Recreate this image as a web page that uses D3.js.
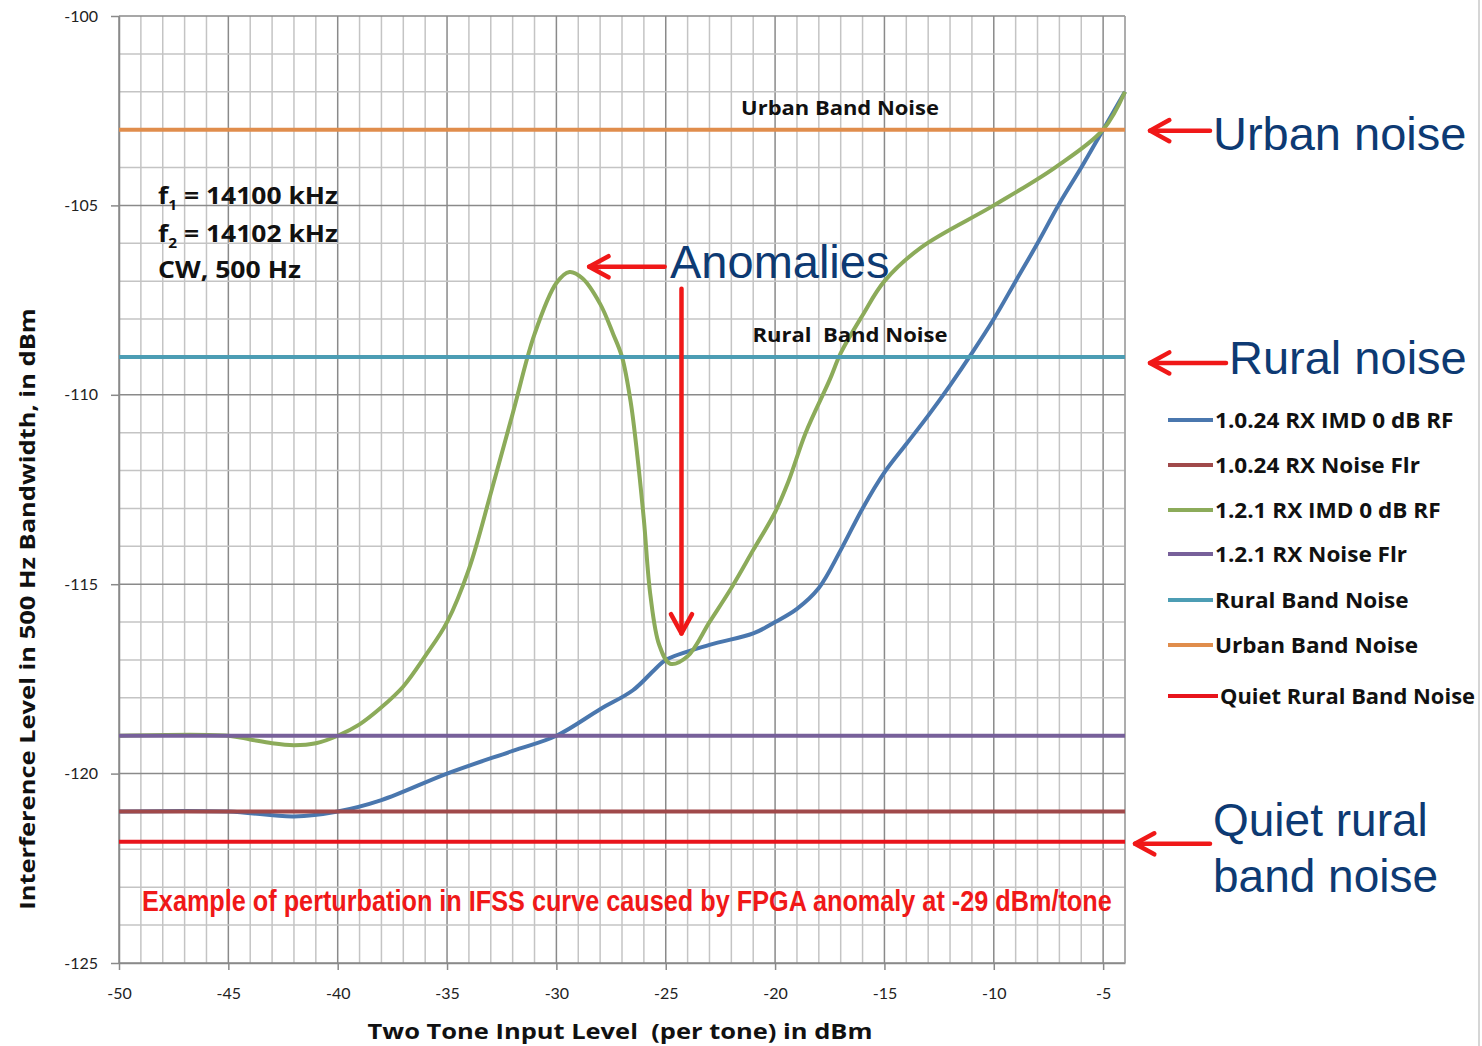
<!DOCTYPE html>
<html><head><meta charset="utf-8">
<script src="https://cdn.jsdelivr.net/npm/d3@7"></script>
<style>
html,body{margin:0;padding:0;background:#fff;}
svg{display:block;}
</style></head>
<body>
<svg id="chart" width="1482" height="1046"></svg>
<script>
// ---- data ----
const xTicks = [-50,-45,-40,-35,-30,-25,-20,-15,-10,-5];
const yTicks = [-100,-105,-110,-115,-120,-125];

const blueX = [-50,-45,-42,-40,-38,-35,-32,-30,-28,-26.5,-25.5,-25,-23,-21,-20,-19,-18,-17,-16,-15,-14,-13,-12,-11,-10,-9,-8,-7,-6,-5,-4];
const blueY = [-121.0,-121.0,-121.13,-121.0,-120.7,-120.0,-119.4,-119.0,-118.3,-117.8,-117.25,-117.0,-116.6,-116.3,-116.0,-115.65,-115.1,-114.1,-113.0,-112.05,-111.3,-110.55,-109.75,-108.9,-108.0,-107.0,-106.0,-104.95,-104.0,-103.0,-102.0];

const greenX = [-50,-45,-44,-43,-42,-41,-40,-39,-38,-37,-36,-35,-34,-33,-32,-31,-30,-29.4,-28.8,-28,-27.4,-27,-26.6,-26.3,-26,-25.7,-25.3,-24.8,-24,-23,-22,-21,-20,-19.4,-18.6,-17.5,-17,-16,-15,-13.3,-10,-7.2,-5,-4];
const greenY = [-119.0,-119.0,-119.1,-119.2,-119.25,-119.2,-119.0,-118.7,-118.25,-117.7,-116.9,-116.0,-114.6,-112.6,-110.5,-108.4,-107.05,-106.76,-106.93,-107.6,-108.4,-109.0,-110.2,-111.6,-113.3,-115.3,-116.6,-117.1,-116.9,-116.0,-115.1,-114.1,-113.1,-112.3,-111.0,-109.6,-108.9,-107.9,-107.0,-106.1,-105.0,-104.0,-103.0,-102.0];

const levelNames = ["1.0.24 RX Noise Flr","1.2.1 RX Noise Flr","Rural Band Noise","Urban Band Noise","Quiet Rural Band Noise"];
const levelValues = [-121.0,-119.0,-109.0,-103.0,-121.8];

const legendLabels = ["1.0.24 RX IMD 0 dB RF","1.0.24 RX Noise Flr","1.2.1 RX IMD 0 dB RF","1.2.1 RX Noise Flr","Rural Band Noise","Urban Band Noise","Quiet Rural Band Noise"];
const seriesColors = ["#4a77ae","#a0494a","#8cab5a","#77609a","#4c9db4","#e08d4c","#e8141c"];

// ---- layout ----
const svg = d3.select("#chart");
const x = d3.scaleLinear().domain([-50,-4]).range([119,1125]);
const y = d3.scaleLinear().domain([-125,-100]).range([963,16]);
const navy = "#0d3a73";
const red = "#f01818";
const tickFont = "Lato, 'Open Sans', sans-serif";
const boldFont = "'Open Sans', Lato, sans-serif";

// scale a text horizontally so that its real box has the wanted width
function fit(sel, tx, ty, target, anchor){
  const w = sel.node().getComputedTextLength();
  const k = target / w;
  sel.attr("x",0).attr("y",0).attr("text-anchor",anchor||"start")
     .attr("transform",`translate(${tx},${ty}) scale(${k},1)`);
  return sel;
}

// grid
const g = svg.append("g");
const vVals = d3.range(-50,-3,1);
const hVals = d3.range(-125,-99,1);
g.selectAll("line.v").data(vVals).join("line")
  .attr("x1",d=>x(d)).attr("x2",d=>x(d)).attr("y1",y(-100)).attr("y2",y(-125))
  .attr("stroke",d=>d%5===0?"#8a8a8a":"#c4c4c4").attr("stroke-width",1.5);
g.selectAll("line.h").data(hVals).join("line")
  .attr("x1",x(-50)).attr("x2",x(-4)).attr("y1",d=>y(d)).attr("y2",d=>y(d))
  .attr("stroke",d=>d%5===0?"#8a8a8a":"#c4c4c4").attr("stroke-width",1.5);
g.append("line").attr("x1",x(-4)).attr("x2",x(-4)).attr("y1",y(-100)).attr("y2",y(-125)).attr("stroke","#a0a0a0").attr("stroke-width",1.5);

// axes
const xAxis = svg.append("g").attr("transform",`translate(0,${y(-125)})`)
  .call(d3.axisBottom(x).tickValues(xTicks).tickSize(7).tickSizeOuter(0).tickPadding(18).tickFormat(d=>d));
const yAxis = svg.append("g").attr("transform",`translate(${x(-50)},0)`)
  .call(d3.axisLeft(y).tickValues(yTicks).tickSize(8).tickSizeOuter(0).tickPadding(13).tickFormat(d=>d));
[xAxis,yAxis].forEach(a=>{
  a.select(".domain").attr("stroke","#8a8a8a").attr("stroke-width",1.5);
  a.selectAll(".tick line").attr("stroke","#8a8a8a").attr("stroke-width",1.5);
  a.selectAll(".tick text").attr("font-family",tickFont).attr("font-size",16).attr("fill","#222");
});

// series
const lineGen = d3.line().x(d=>x(d[0])).y(d=>y(d[1])).curve(d3.curveCatmullRom.alpha(0.5));
const flat = v => [[-50,v],[-4,v]];
const seriesData = [
  d3.zip(blueX,blueY),
  flat(levelValues[0]),
  d3.zip(greenX,greenY),
  flat(levelValues[1]),
  flat(levelValues[2]),
  flat(levelValues[3]),
  flat(levelValues[4])
];
svg.append("g").selectAll("path").data(seriesData).join("path")
  .attr("d",lineGen).attr("fill","none")
  .attr("stroke",(d,i)=>seriesColors[i]).attr("stroke-width",4).attr("stroke-linecap","butt");

// in-plot labels
fit(svg.append("text")
  .attr("font-family",boldFont).attr("font-weight","bold").attr("font-size",19).attr("fill","#111")
  .text("Urban Band Noise"), 840, y(-103)-15, 198, "middle");
fit(svg.append("text")
  .attr("font-family",boldFont).attr("font-weight","bold").attr("font-size",19).attr("fill","#111")
  .style("white-space","pre")
  .text("Rural  Band Noise"), 850, y(-109)-15, 195, "middle");

// frequency box
const fTxt = svg.append("g").attr("font-family",boldFont).attr("font-weight","bold").attr("font-size",24).attr("fill","#111");
const t1 = fTxt.append("text");
t1.append("tspan").text("f");
t1.append("tspan").attr("font-size",14).attr("dy",6).text("1");
t1.append("tspan").attr("dy",-6).text(" = 14100 kHz");
fit(t1,158,204,180);
const t2 = fTxt.append("text");
t2.append("tspan").text("f");
t2.append("tspan").attr("font-size",14).attr("dy",6).text("2");
t2.append("tspan").attr("dy",-6).text(" = 14102 kHz");
fit(t2,158,242,180);
fit(fTxt.append("text").text("CW, 500 Hz"),158,278,143);

// red example text
fit(svg.append("text")
  .attr("font-family","'Liberation Sans Narrow', 'Liberation Sans', sans-serif").attr("font-weight","bold")
  .attr("font-size",30).attr("fill",red)
  .text("Example of perturbation in IFSS curve caused by FPGA anomaly at -29 dBm/tone"),
  142, y(-123.63), 970);

// arrows (annotations)
function arrow(x1,y1,x2,y2){
  const ga = svg.append("g").attr("stroke",red).attr("stroke-width",4.5).attr("fill","none").attr("stroke-linecap","round").attr("stroke-linejoin","round");
  ga.append("line").attr("x1",x1).attr("y1",y1).attr("x2",x2).attr("y2",y2);
  const ang = Math.atan2(y2-y1,x2-x1);
  const L = 22, W = 0.5;
  const p1 = [x2 - L*Math.cos(ang-W), y2 - L*Math.sin(ang-W)];
  const p2 = [x2 - L*Math.cos(ang+W), y2 - L*Math.sin(ang+W)];
  ga.append("polyline").attr("points",`${p1} ${x2},${y2} ${p2}`);
}
arrow(x(-25.05), y(-106.62), x(-28.5), y(-106.62));
arrow(x(-24.28), y(-107.2), x(-24.28), y(-116.3));
arrow(1210, y(-103)+1, 1150, y(-103)+1);
arrow(1226, y(-109)+6, 1150, y(-109)+6);
arrow(1210, y(-121.8)+2, 1135, y(-121.8)+2);

// navy callouts
const callFont = "'Liberation Sans', Arial, sans-serif";
function callout(tx,ty,s,fs){
  svg.append("text").attr("x",tx).attr("y",ty).attr("font-family",callFont).attr("font-size",fs||47).attr("fill",navy).text(s);
}
callout(670,278,"Anomalies");
callout(1213,150,"Urban noise");
callout(1229,374,"Rural noise");
callout(1213,836,"Quiet rural",46);
callout(1213,892,"band noise",46);

// legend
const legY = [420,465,510,554,600,645,696];
const leg = svg.append("g").selectAll("g").data(legendLabels).join("g")
  .attr("transform",(d,i)=>`translate(0,${legY[i]})`);
leg.append("line").attr("x1",1168).attr("x2",(d,i)=>i===6?1218:1213).attr("y1",0).attr("y2",0)
  .attr("stroke",(d,i)=>seriesColors[i]).attr("stroke-width",4);
leg.append("text")
  .attr("font-family",boldFont).attr("font-weight","bold").attr("font-size",20.5).attr("fill","#111")
  .text(d=>d)
  .each(function(d,i){
    const w = this.getComputedTextLength();
    fit(d3.select(this), i===6?1220:1215, 7.5, Math.min(w*1.1,255));
  });

// axis titles
fit(svg.append("text")
  .attr("font-family",boldFont).attr("font-weight","bold").attr("font-size",22).attr("fill","#111")
  .style("white-space","pre")
  .text("Two Tone Input Level  (per tone) in dBm"), 620, 1039, 505, "middle");
const yt = svg.append("text")
  .attr("font-family",boldFont).attr("font-weight","bold").attr("font-size",22).attr("fill","#111")
  .text("Interference Level in 500 Hz Bandwidth, in dBm");
const ytw = yt.node().getComputedTextLength();
yt.attr("text-anchor","middle").attr("transform",`translate(35,609) rotate(-90) scale(${602/ytw},1)`);

// outer chart border on right
svg.append("line").attr("x1",1479).attr("x2",1479).attr("y1",0).attr("y2",1046).attr("stroke","#c8c8c8").attr("stroke-width",1.5);
</script>
</body></html>
